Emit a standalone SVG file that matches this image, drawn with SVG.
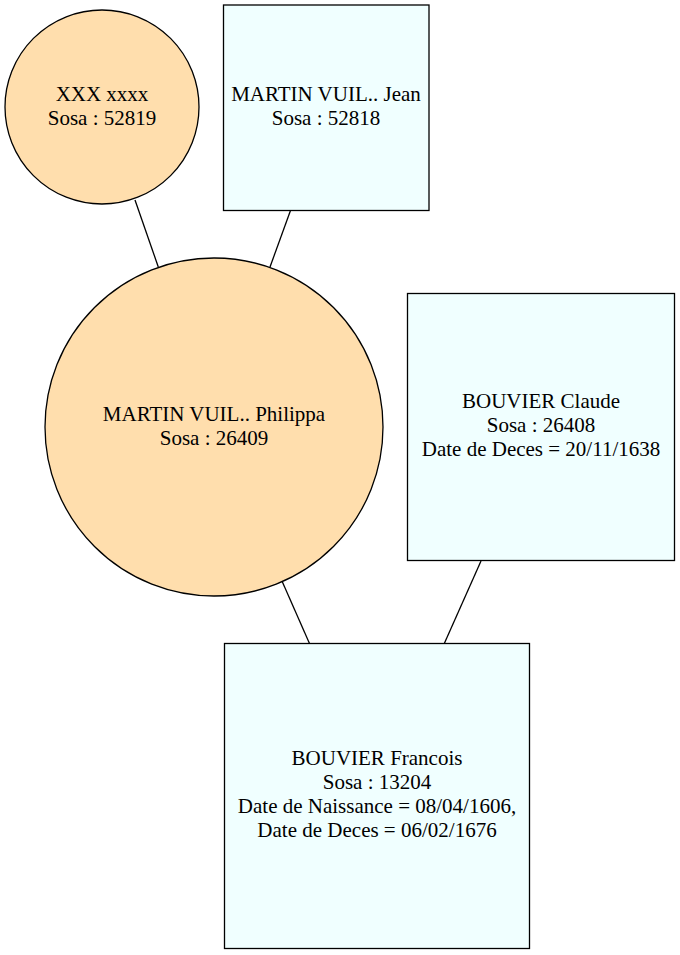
<svg xmlns="http://www.w3.org/2000/svg" width="680" height="955" viewBox="0 0 680 955">
<style>
.f{fill:#ffdead;stroke:#000;stroke-width:1.3}
.m{fill:#f0ffff;stroke:#000;stroke-width:1.3}
.e{stroke:#000;stroke-width:1.3;fill:none}
text{font-family:"Liberation Serif","Times New Roman",serif;font-size:21px;text-anchor:middle;fill:#000}
</style>
<rect width="680" height="955" fill="#fff"/>
<g id="edges">
<line class="e" x1="135" y1="200" x2="158.3" y2="267"/>
<line class="e" x1="290.5" y1="210.5" x2="270" y2="267"/>
<line class="e" x1="282.3" y1="581.7" x2="309.5" y2="643.5"/>
<line class="e" x1="481" y1="561" x2="444.3" y2="643.5"/>
</g>
<g id="n52819">
<circle class="f" cx="102" cy="107" r="97"/>
<text x="102" y="100.5">XXX xxxx</text>
<text x="102" y="124.5">Sosa : 52819</text>
</g>
<g id="n52818">
<rect class="m" x="223.5" y="5" width="205.5" height="205.5"/>
<text x="326" y="100.5">MARTIN VUIL.. Jean</text>
<text x="326" y="124.5">Sosa : 52818</text>
</g>
<g id="n26409">
<circle class="f" cx="214" cy="427" r="169"/>
<text x="214" y="420.5">MARTIN VUIL.. Philippa</text>
<text x="214" y="444.5">Sosa : 26409</text>
</g>
<g id="n26408">
<rect class="m" x="407.5" y="293.5" width="267" height="267"/>
<text x="541" y="408">BOUVIER Claude</text>
<text x="541" y="432">Sosa : 26408</text>
<text x="541" y="456">Date de Deces = 20/11/1638</text>
</g>
<g id="n13204">
<rect class="m" x="224.5" y="643.5" width="305" height="305"/>
<text x="377" y="765">BOUVIER Francois</text>
<text x="377" y="789">Sosa : 13204</text>
<text x="377" y="813">Date de Naissance = 08/04/1606,</text>
<text x="377" y="837">Date de Deces = 06/02/1676</text>
</g>
</svg>
